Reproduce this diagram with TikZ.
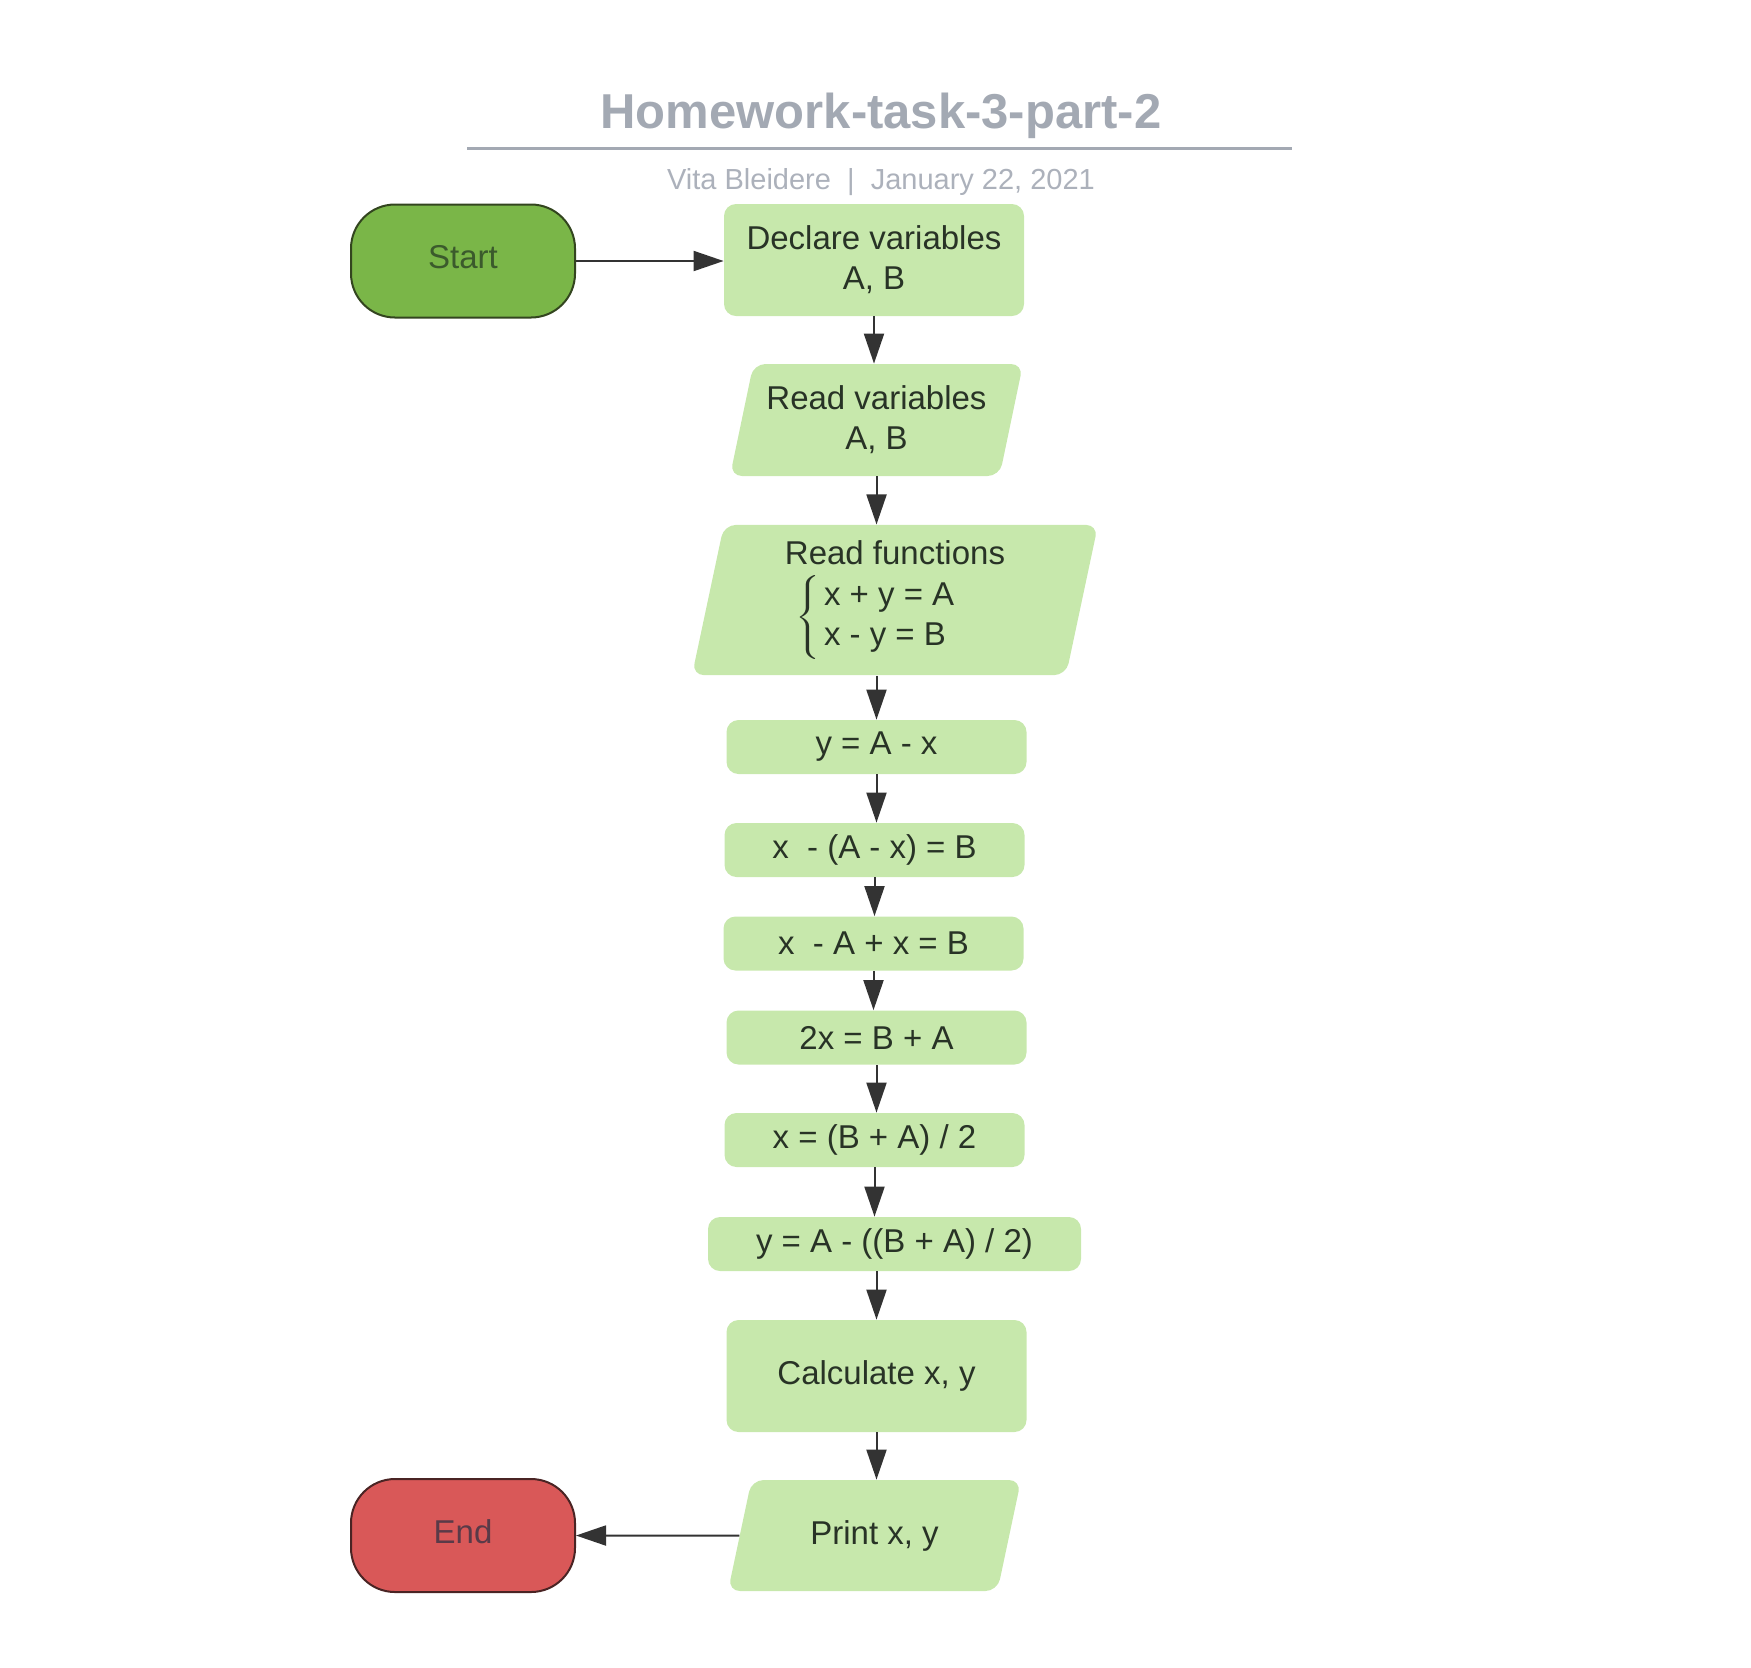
\documentclass[tikz,border=0pt]{standalone}
\usepackage{fontspec}
\usepackage{graphicx}
\setmainfont{Liberation Sans}
\usetikzlibrary{arrows.meta,shapes.geometric}

\definecolor{boxfill}{HTML}{C7E8AC}
\definecolor{boxtext}{HTML}{283326}
\definecolor{startfill}{HTML}{7AB648}
\definecolor{startline}{HTML}{33451F}
\definecolor{starttext}{HTML}{3B5A2C}
\definecolor{stopfill}{HTML}{D95858}
\definecolor{stopline}{HTML}{4A2424}
\definecolor{stoptext}{HTML}{5A3A48}
\definecolor{ink}{HTML}{333333}
\definecolor{titlegray}{HTML}{A3A9B3}

\begin{document}
\begin{tikzpicture}[
  x=0.5pt, y=-0.5pt,
  term/.style={draw, line width=1pt, rounded corners=22pt, minimum width=112pt, minimum height=56.5pt, text depth=4pt, font=\fontsize{16.5}{20}\selectfont},
  b/.style={fill=boxfill, rounded corners=6pt, align=center, minimum width=150pt, minimum height=27pt, inner sep=0pt, text=boxtext, font=\fontsize{16.5}{20}\selectfont},
  io/.style={b, trapezium, trapezium left angle=78, trapezium right angle=102, trapezium stretches body},
  e/.style={-{Triangle[length=15pt, width=10pt]}, line width=1pt, draw=ink, fill=ink}
]
\useasboundingbox (0,0) rectangle (1751,1667);

% header
\node[anchor=base, text=titlegray, font=\fontsize{24.5}{29}\selectfont\bfseries] (title) at (881,128) {Homework-task-3-part-2};
\draw[titlegray, line width=1.5pt] (467,148) -- (1292,148);
\node[anchor=base, text=titlegray!90!white, font=\fontsize{14.5}{17}\selectfont] (byline) at (881,189) {Vita Bleidere~~|~~January 22, 2021};

% flow
\node[term, fill=startfill, draw=startline, text=starttext] (start) at (463,261) {Start};
\node[b, minimum height=56pt] (decl) at (874,260) {Declare variables\\A, B};
\node[io, inner ysep=10.5pt, minimum width=146.5pt, minimum height=56pt] (readv) at (876.5,420) {Read variables\\A, B};
\node[io, inner ysep=8pt, minimum width=203pt, minimum height=74pt] (readf) at (895,600) {Read functions\\[4pt]\scalebox{1.4}[1]{$\left\{\vphantom{\begin{tabular}{@{}l@{}}x\\x\end{tabular}}\right.$}\begin{tabular}{@{}l@{}}x + y = A\\x - y = B\end{tabular}\hspace*{20pt}};
\node[b] (yax) at (876.5,747) {y = A - x};
\node[b] (subst) at (874.5,850) {x~ - (A - x) = B};
\node[b] (expand) at (873.5,943.5) {x~ - A + x = B};
\node[b] (twox) at (876.5,1037.5) {2x = B + A};
\node[b] (xval) at (874.5,1140) {x = (B + A) / 2};
\node[b, minimum width=186.5pt] (yval) at (894.5,1244) {y = A - ((B + A) / 2)};
\node[b, minimum height=56pt] (calc) at (876.5,1376) {Calculate x, y};
\node[io, inner ysep=20pt, minimum width=146.5pt, minimum height=55.5pt] (print) at (874.5,1535.5) {Print x, y};
\node[term, fill=stopfill, draw=stopline, text=stoptext] (stop) at (463,1535.5) {End};

\draw[e] (start.east) -- (start.east -| decl.west);
\draw[e] (decl.south) -- (decl.south |- readv.north);
\draw[e] (readv.south) -- (readv.south |- readf.north);
\draw[e] (yax.north |- readf.south) -- (yax.north);
\draw[e] (yax.south) -- (yax.south |- subst.north);
\draw[e] (subst.south) -- (subst.south |- expand.north);
\draw[e] (expand.south) -- (expand.south |- twox.north);
\draw[e] (twox.south) -- (twox.south |- xval.north);
\draw[e] (xval.south) -- (xval.south |- yval.north);
\draw[e] (calc.north |- yval.south) -- (calc.north);
\draw[e] (calc.south) -- (calc.south |- print.north);
\draw[e] (print.west) -- (stop.east);
\end{tikzpicture}
\end{document}
